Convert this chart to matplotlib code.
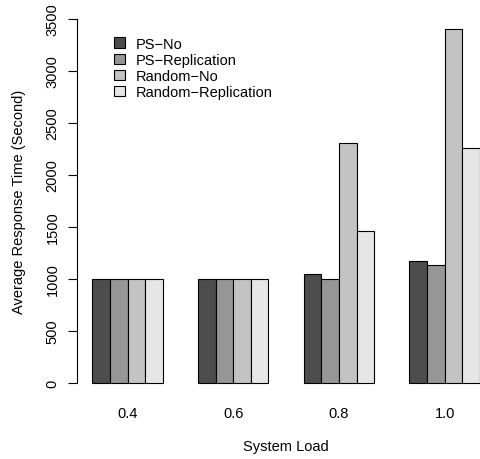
import matplotlib
matplotlib.use("Agg")
import matplotlib.pyplot as plt
from matplotlib.patches import Patch

plt.rcParams['font.family'] = ['Liberation Sans', 'DejaVu Sans']

loads = ["0.4", "0.6", "0.8", "1.0"]
series = ["PS\u2212No", "PS\u2212Replication", "Random\u2212No", "Random\u2212Replication"]
ps_no = [1000, 1000, 1045, 1170]
ps_rep = [1000, 1000, 1000, 1132]
rnd_no = [1000, 1000, 2305, 3404]
rnd_rep = [1000, 1000, 1462, 2257]
values = [ps_no, ps_rep, rnd_no, rnd_rep]
colors = ["#4D4D4D", "#969696", "#C3C3C3", "#E6E6E6"]
yticks = [0, 500, 1000, 1500, 2000, 2500, 3000, 3500]

fig = plt.figure(figsize=(4.8, 4.6), dpi=100)
ax = fig.add_axes([0.16, 0.1336, 0.872, 0.8546])

stride = 6
for i, (vals, col) in enumerate(zip(values, colors)):
    xs = [g * stride + i for g in range(len(loads))]
    ax.bar(xs, vals, width=1, align='edge', color=col, edgecolor='black', linewidth=0.8, label=series[i])

ax.set_xlim(-0.88, 22.88)
ax.set_ylim(-140, 3640)
ax.set_xticks([g * stride + 2 for g in range(len(loads))])
ax.set_xticklabels(loads, fontsize=10.5)
ax.tick_params(axis='x', length=0, pad=6)
ax.set_yticks(yticks)
ax.set_yticklabels([str(t) for t in yticks], fontsize=10.5, rotation=90)
for lab in ax.get_yticklabels():
    lab.set_va('center')
ax.tick_params(axis='y', length=6.5, width=0.8, pad=6)

for s in ['top', 'right', 'bottom']:
    ax.spines[s].set_visible(False)
ax.spines['left'].set_bounds(0, 3500)
ax.spines['left'].set_linewidth(0.8)

ax.set_xlabel("System Load", fontsize=10.5, labelpad=14)
ax.set_ylabel("Average Response Time (Second)", fontsize=10.5, labelpad=14)

handles = [Patch(facecolor=c, edgecolor='black', linewidth=0.8) for c in colors]
fig.legend(handles, series, loc='upper left', bbox_to_anchor=(0.238, 0.918),
           frameon=False, fontsize=10.5, handlelength=0.72, handleheight=0.72,
           handletextpad=0.75, labelspacing=0.15, borderpad=0, borderaxespad=0)

fig.savefig("out.png", dpi=100)
